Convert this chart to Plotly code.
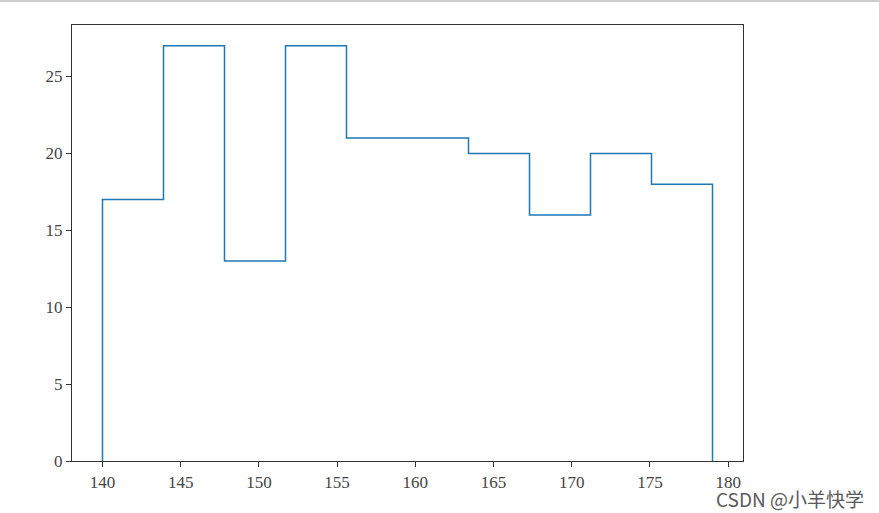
import numpy as np
import plotly.graph_objects as go

bin_start = 140
bin_end = 179
counts = [17, 27, 13, 27, 21, 21, 20, 16, 20, 18]
x_ticks = [140, 145, 150, 155, 160, 165, 170, 175, 180]
y_ticks = [0, 5, 10, 15, 20, 25]
watermark = "CSDN @小羊快学"

edges = np.linspace(bin_start, bin_end, len(counts) + 1)
xs = [edges[0]] + list(edges[:-1]) + [edges[-1], edges[-1]]
ys = [0] + counts + [counts[-1], 0]

fig = go.Figure()
fig.add_trace(go.Scatter(x=xs, y=ys, mode="lines", line=dict(color="#1f77b4", width=1.5, shape="hv"),
                         hoverinfo="skip", showlegend=False, cliponaxis=False))

W, H = 879, 513
l, r, t, b = 72, 136, 25, 52
pw, ph = W - l - r, H - t - b
span = bin_end - bin_start
ymax = max(counts) * 1.05

axis_common = dict(showgrid=False, zeroline=False, showline=True, linecolor="#333", linewidth=1.2,
                   mirror=True, ticks="outside", ticklen=5, tickcolor="#333", tickwidth=1.2,
                   tickfont=dict(family="Liberation Serif", size=17, color="#444"))
fig.update_layout(
    width=W, height=H, margin=dict(l=l, r=r, t=t, b=b),
    paper_bgcolor="white", plot_bgcolor="white",
    xaxis=dict(range=[bin_start - 0.05 * span, bin_end + 0.05 * span], tickvals=x_ticks, **axis_common),
    yaxis=dict(range=[0, ymax], tickvals=y_ticks, **axis_common),
    shapes=[dict(type="line", xref="paper", yref="paper", x0=-l / pw, x1=(W - l) / pw,
                 y0=1 + (t - 1) / ph, y1=1 + (t - 1) / ph, line=dict(color="#cccccc", width=2))],
    annotations=[dict(text=watermark, xref="paper", yref="paper", x=(866 - l) / pw, y=-(498 - t - ph) / ph,
                      xanchor="right", yanchor="middle", showarrow=False,
                      font=dict(family="Noto Sans CJK SC", size=19, color="#5a5a5a"))],
)
fig.write_html("out.html", config={"displayModeBar": False},
               post_script="document.body.style.margin='0';document.body.style.padding='0';")
